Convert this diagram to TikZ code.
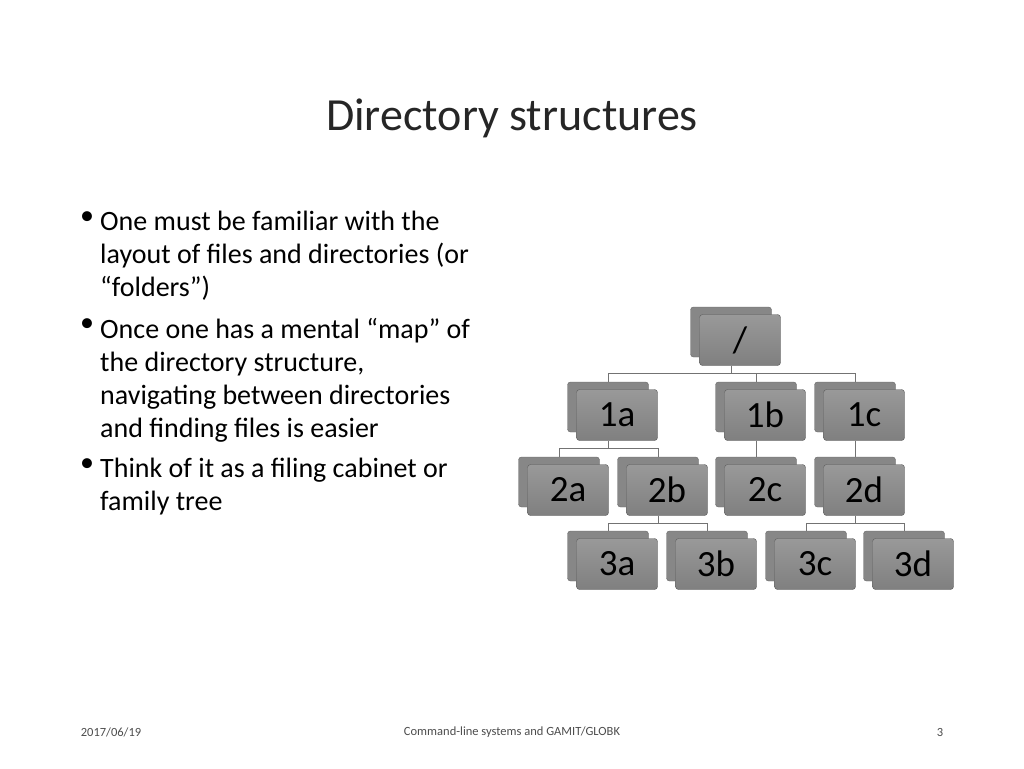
\documentclass[tikz,border=0pt]{standalone}
\usepackage{fontspec}
\setmainfont{Carlito}
\begin{document}
\begin{tikzpicture}[x=1pt,y=-1pt,
  back/.style={draw=black!60,fill=black!47,rounded corners=3pt,minimum width=81pt,minimum height=50pt,inner sep=0pt},
  front/.style={draw=black!65,top color=black!40,bottom color=black!50,rounded corners=3pt,minimum width=81pt,minimum height=51pt,inner sep=0pt,font=\fontsize{37}{38}\selectfont},
  conn/.style={draw=black!55,line width=0.7pt},
  bul/.style={anchor=north west,inner sep=0pt,font=\fontsize{28}{33}\selectfont,align=left},
  ft/.style={font=\fontsize{12.5}{14}\selectfont,text=black!70}]
\useasboundingbox (0,0) rectangle (1024,768);
\node[font=\fontsize{46}{50}\selectfont,text=black!85,anchor=base] (title) at (512,130) {Directory structures};
\node[bul] (b1m) at (80,211) {•};
\node[bul] (b1) at (100,211) {One must be familiar with the\\layout of files and directories (or\\“folders”)};
\node[bul] (b2m) at (80,318) {•};
\node[bul] (b2) at (100,318) {Once one has a mental “map” of\\the directory structure,\\navigating between directories\\and finding files is easier};
\node[bul] (b3m) at (80,458) {•};
\node[bul] (b3) at (100,458) {Think of it as a filing cabinet or\\family tree};
\node[ft] (date) at (111,732) {2017/06/19};
\node[ft] (foot) at (512,732) {Command-line systems and GAMIT/GLOBK};
\node[ft] (page) at (940,732) {3};
\foreach \n/\t/\x/\y in {r/\char`\//740/340, a1/1a/617/415, b1/1b/765/415, c1/1c/864/415,
  a2/2a/568/490, b2/2b/667/490, c2/2c/765/490, d2/2d/864/490,
  a3/3a/617/564, b3/3b/716/564, c3/3c/815/564, d3/3d/913/564}{
  \node[back] (\n k) at (\x-9,\y-8) {};
  \node[front] (\n) at (\x,\y) {\t};
}
\coordinate (h0) at (0,373); \coordinate (h1) at (0,448); \coordinate (h2) at (0,523);
\draw[conn] (rk.center |- r.south) -- (rk.center |- h0);
\draw[conn] (a1k.north) -- (a1k.north |- h0) -- (c1k.north |- h0) -- (c1k.north);
\draw[conn] (b1k.north |- h0) -- (b1k.north);
\draw[conn] (a1k.center |- a1.south) -- (a1k.center |- h1);
\draw[conn] (a2k.north) -- (a2k.north |- h1) -- (b2k.north |- h1) -- (b2k.north);
\draw[conn] (b1k.center |- b1.south) -- (c2k.north);
\draw[conn] (c1k.center |- c1.south) -- (d2k.north);
\draw[conn] (b2k.center |- b2.south) -- (b2k.center |- h2);
\draw[conn] (a3k.north) -- (a3k.north |- h2) -- (b3k.north |- h2) -- (b3k.north);
\draw[conn] (d2k.center |- d2.south) -- (d2k.center |- h2);
\draw[conn] (c3k.north) -- (c3k.north |- h2) -- (d3k.north |- h2) -- (d3k.north);
\end{tikzpicture}
\end{document}
